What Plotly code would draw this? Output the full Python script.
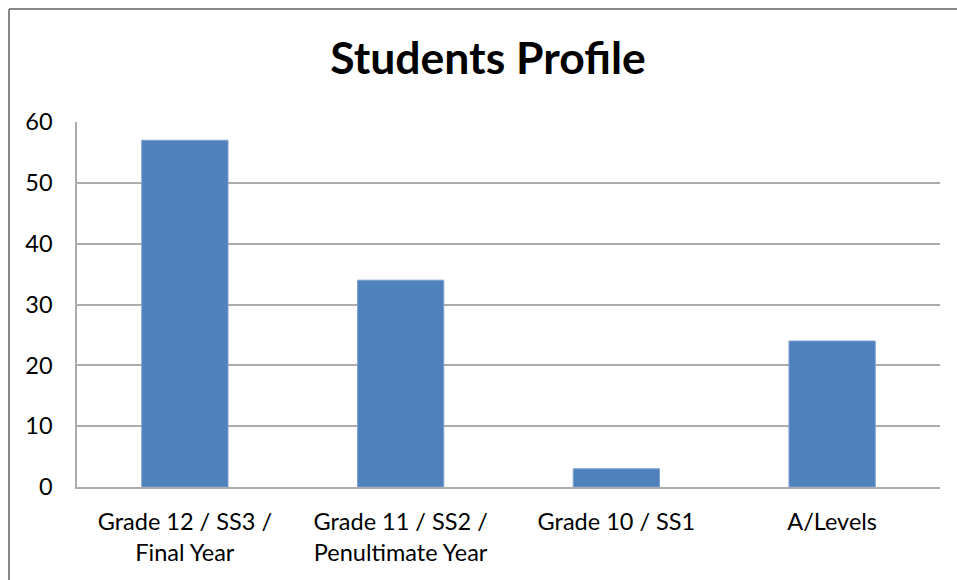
import plotly.graph_objects as go

categories = ["Grade 12 / SS3 /<br>Final Year", "Grade 11 / SS2 /<br>Penultimate Year", "Grade 10 / SS1", "A/Levels"]
students = [57, 34, 3, 24]
y_ticks = [0, 10, 20, 30, 40, 50, 60]

W, H = 957, 580
L, R, T, B = 77, 940, 122, 487

fig = go.Figure()
fig.add_trace(go.Bar(x=categories, y=students,
                     marker=dict(color="#4F81BD", line=dict(color="#7FA2D0", width=1))))

fig.update_layout(
    width=W, height=H,
    margin=dict(l=L, r=W - R, t=T, b=H - B, pad=0),
    paper_bgcolor="white", plot_bgcolor="white",
    bargap=0.6, showlegend=False,
    font=dict(family="Lato, Open Sans, sans-serif", color="#000000", size=23.5),
    title=dict(text="<b>Students Profile</b>", x=488 / W, xref="container", xanchor="center",
               y=1 - 58 / H, yanchor="middle", yref="container",
               font=dict(size=44.5, family="Lato, Open Sans, sans-serif", color="#000000")),
)
fig.update_yaxes(range=[0, 60], tickvals=y_ticks, showgrid=True, gridcolor="#ACACAC", gridwidth=1.5,
                 showline=True, linecolor="#ACACAC", linewidth=1.5, zeroline=False,
                 ticks="", ticklabelstandoff=18, automargin=False)
fig.update_xaxes(showline=True, linecolor="#ACACAC", linewidth=1.5, ticks="", ticklabelstandoff=13,
                 automargin=False)

# chart frame (only top and left edges fall inside the crop)
pw, ph = R - L, B - T
fx = (9 - L) / pw
fy = 1 + (T - 9) / ph
fig.add_shape(type="line", xref="paper", yref="paper", x0=fx, x1=fx, y0=fy, y1=-(H - B) / ph,
              line=dict(color="#868686", width=2))
fig.add_shape(type="line", xref="paper", yref="paper", x0=fx, x1=1 + (W - R) / pw, y0=fy, y1=fy,
              line=dict(color="#868686", width=2))

fig.write_html("out.html", config={"displayModeBar": False},
               post_script="document.body.style.margin='0';document.documentElement.style.overflow='hidden';")
